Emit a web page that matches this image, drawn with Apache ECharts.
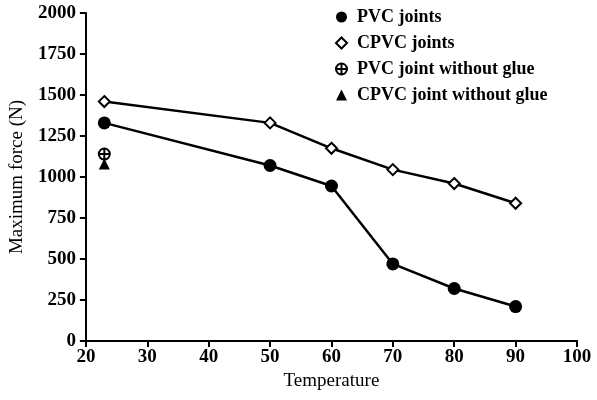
<!DOCTYPE html>
<html>
<head>
<meta charset="utf-8">
<script src="https://cdn.jsdelivr.net/npm/echarts@6/dist/echarts.min.js"></script>
<style>
  html, body { margin: 0; padding: 0; background: #fff; }
  #chart { width: 597px; height: 400px; }
</style>
</head>
<body>
<div id="chart"></div>
<script>
var temps = [23, 50, 60, 70, 80, 90]
var pvcJoints = [1330, 1070, 945, 470, 320, 210]
var cpvcJoints = [1460, 1330, 1175, 1045, 960, 840]
var pvcNoGlue = [[23, 1140]]
var cpvcNoGlue = [[23, 1080]]
var seriesNames = ['PVC joints', 'CPVC joints', 'PVC joint without glue', 'CPVC joint without glue']

var crossCircle = 'path://M0,-10 A10,10 0 1,1 0,10 A10,10 0 1,1 0,-10 Z M-10,0 L10,0 M0,-10 L0,10'
var font = 'Liberation Serif'

function pairs(xs, ys) {
    var out = []
    for (var i = 0; i < xs.length; i++) {
        out.push([xs[i], ys[i]])
    }
    return out
}

var axisCommon = {
    axisLine: { show: true, lineStyle: { color: '#000', width: 2 } },
    axisTick: { show: true, length: 6, lineStyle: { color: '#000', width: 2 } },
    splitLine: { show: false },
    axisLabel: {
        color: '#000', fontFamily: font, fontSize: 19, fontWeight: 'bold',
        formatter: function (v) { return String(v) }
    },
    nameTextStyle: { color: '#000', fontFamily: font, fontSize: 19 }
}

var option = {
    animation: false,
    backgroundColor: '#fff',
    grid: { left: 85, right: 20, top: 13, bottom: 59 },
    legend: {
        orient: 'vertical',
        left: 330,
        top: 3,
        itemGap: 8,
        itemWidth: 11,
        itemHeight: 11,
        textStyle: { color: '#000', fontFamily: font, fontSize: 18, fontWeight: 'bold', padding: [0, 0, 0, 5] },
        data: [
            { name: seriesNames[0], icon: 'circle', itemStyle: { color: '#000', opacity: 1 } },
            { name: seriesNames[1], icon: 'diamond', itemStyle: { color: '#fff', borderColor: '#000', borderWidth: 2 } },
            { name: seriesNames[2], icon: crossCircle, itemStyle: { color: '#fff', borderColor: '#000', borderWidth: 2 } },
            { name: seriesNames[3], icon: 'triangle', itemStyle: { color: '#000', opacity: 1 } }
        ]
    },
    xAxis: Object.assign({}, axisCommon, {
        type: 'value',
        min: 20,
        max: 100,
        interval: 10,
        name: 'Temperature',
        nameLocation: 'middle',
        nameGap: 31,
        axisLabel: Object.assign({}, axisCommon.axisLabel, { margin: 7 })
    }),
    yAxis: Object.assign({}, axisCommon, {
        type: 'value',
        min: 0,
        max: 2000,
        interval: 250,
        name: 'Maximum force (N)',
        nameLocation: 'middle',
        nameGap: 57,
        axisLabel: Object.assign({}, axisCommon.axisLabel, { margin: 10 })
    }),
    series: [
        {
            name: seriesNames[0],
            type: 'line',
            data: pairs(temps, pvcJoints),
            symbol: 'circle',
            symbolSize: 13,
            lineStyle: { color: '#000', width: 2.5 },
            itemStyle: { color: '#000' }
        },
        {
            name: seriesNames[1],
            type: 'line',
            data: pairs(temps, cpvcJoints),
            symbol: 'diamond',
            symbolSize: 11,
            lineStyle: { color: '#000', width: 2.5 },
            itemStyle: { color: '#fff', borderColor: '#000', borderWidth: 2 }
        },
        {
            name: seriesNames[2],
            type: 'scatter',
            data: pvcNoGlue,
            symbol: crossCircle,
            symbolSize: 11,
            itemStyle: { color: '#fff', borderColor: '#000', borderWidth: 2, opacity: 1 }
        },
        {
            name: seriesNames[3],
            type: 'scatter',
            data: cpvcNoGlue,
            symbol: 'triangle',
            symbolSize: 11,
            itemStyle: { color: '#000', opacity: 1 }
        }
    ]
}

var myChart = echarts.init(document.getElementById('chart'))
myChart.setOption(option)
</script>
</body>
</html>
